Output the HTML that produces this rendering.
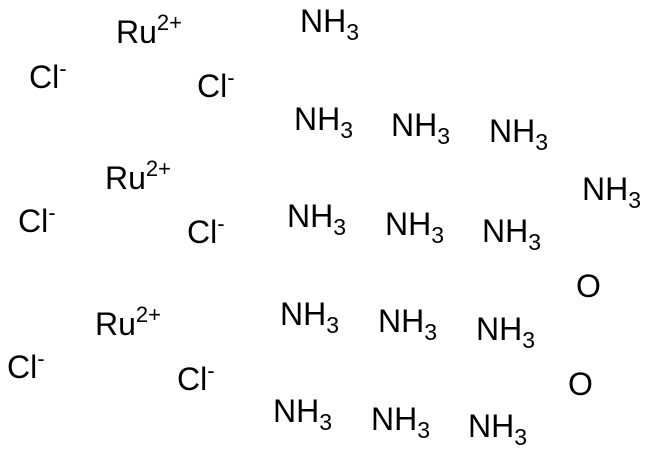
<!DOCTYPE html>
<html><head><meta charset="utf-8"><style>
html,body{margin:0;padding:0;background:#fff;width:650px;height:453px;overflow:hidden}
svg text{font-family:"Liberation Sans",Arial,sans-serif;font-size:32px;fill:#000}
</style></head><body>
<svg width="650" height="453" viewBox="0 0 650 453" xmlns="http://www.w3.org/2000/svg">
<text x="116" y="43">Ru<tspan font-size="22" dy="-13">2+</tspan></text>
<text x="105" y="189">Ru<tspan font-size="22" dy="-13">2+</tspan></text>
<text x="95" y="335">Ru<tspan font-size="22" dy="-13">2+</tspan></text>
<text x="29" y="88">Cl<tspan font-size="22" dy="-12">-</tspan></text>
<text x="197" y="97">Cl<tspan font-size="22" dy="-12">-</tspan></text>
<text x="18" y="232">Cl<tspan font-size="22" dy="-12">-</tspan></text>
<text x="187" y="243">Cl<tspan font-size="22" dy="-12">-</tspan></text>
<text x="7" y="378">Cl<tspan font-size="22" dy="-12">-</tspan></text>
<text x="177" y="390">Cl<tspan font-size="22" dy="-12">-</tspan></text>
<text x="576" y="297">O</text>
<text x="568" y="395">O</text>
<text x="300" y="32">NH<tspan font-size="23" dy="8">3</tspan></text>
<text x="294" y="130">NH<tspan font-size="23" dy="8">3</tspan></text>
<text x="391" y="136">NH<tspan font-size="23" dy="8">3</tspan></text>
<text x="489" y="142">NH<tspan font-size="23" dy="8">3</tspan></text>
<text x="582" y="200">NH<tspan font-size="23" dy="8">3</tspan></text>
<text x="287" y="227">NH<tspan font-size="23" dy="8">3</tspan></text>
<text x="385" y="235">NH<tspan font-size="23" dy="8">3</tspan></text>
<text x="482" y="242">NH<tspan font-size="23" dy="8">3</tspan></text>
<text x="280" y="325">NH<tspan font-size="23" dy="8">3</tspan></text>
<text x="378" y="332">NH<tspan font-size="23" dy="8">3</tspan></text>
<text x="476" y="340">NH<tspan font-size="23" dy="8">3</tspan></text>
<text x="273" y="422">NH<tspan font-size="23" dy="8">3</tspan></text>
<text x="371" y="430">NH<tspan font-size="23" dy="8">3</tspan></text>
<text x="468" y="437">NH<tspan font-size="23" dy="8">3</tspan></text>
</svg>
</body></html>
